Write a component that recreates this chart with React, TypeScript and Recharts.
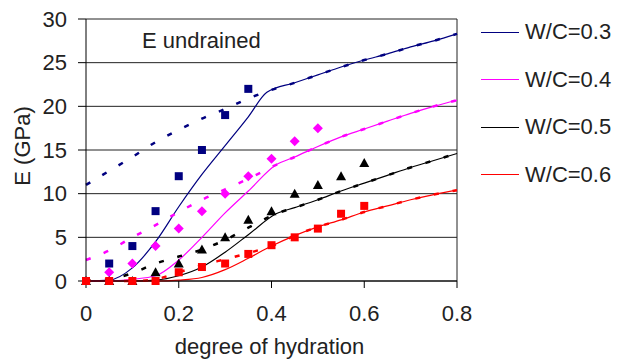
import React from 'react';
import { CartesianGrid, ComposedChart, Line, ReferenceLine, Scatter, XAxis, YAxis } from 'recharts';

// model curves (solid) - W/C 0.3 .. 0.6
const navyX = [0, 0.05, 0.1, 0.15, 0.2, 0.25, 0.3, 0.35, 0.39, 0.45, 0.5, 0.55, 0.6, 0.65, 0.7, 0.75, 0.8];
const navyY = [0, 0.1, 1.5, 4.5, 8.5, 12.2, 15.5, 18.8, 21.6, 22.7, 23.6, 24.5, 25.3, 26.0, 26.8, 27.5, 28.3];
const pinkX = [0, 0.05, 0.1, 0.15, 0.2, 0.25, 0.3, 0.35, 0.41, 0.45, 0.5, 0.55, 0.6, 0.65, 0.7, 0.75, 0.8];
const pinkY = [0, 0, 0.2, 0.6, 2.4, 5.0, 7.8, 10.3, 13.3, 14.2, 15.4, 16.5, 17.4, 18.3, 19.2, 20.0, 20.7];
const blackX = [0, 0.05, 0.1, 0.15, 0.2, 0.25, 0.3, 0.35, 0.41, 0.45, 0.5, 0.55, 0.6, 0.65, 0.7, 0.75, 0.8];
const blackY = [0, 0, 0, 0.1, 0.6, 1.6, 3.3, 5.3, 7.7, 8.4, 9.3, 10.3, 11.2, 12.1, 13.0, 13.8, 14.6];
const redX = [0, 0.05, 0.1, 0.15, 0.2, 0.25, 0.3, 0.35, 0.4, 0.45, 0.5, 0.55, 0.6, 0.65, 0.7, 0.75, 0.8];
const redY = [0, 0, 0, 0, 0.1, 0.4, 1.3, 2.6, 4.0, 5.2, 6.2, 7.0, 7.9, 8.6, 9.3, 9.9, 10.4];

// second model (dashed), joins the solid curve later on
const navyDashY = [11.0, 12.6, 14.2, 15.9, 17.3, 18.6, 19.7, 20.9, 21.7, 22.7, 23.6, 24.5, 25.3, 26.0, 26.8, 27.5, 28.3];
const pinkDashY = [2.4, 3.5, 5.0, 6.4, 7.9, 9.3, 10.5, 11.7, 13.3, 14.2, 15.4, 16.5, 17.4, 18.3, 19.2, 20.0, 20.7];
const blackDashY = [0, 0.2, 0.9, 2.0, 2.8, 3.6, 4.7, 6.1, 7.7, 8.4, 9.3, 10.3, 11.2, 12.1, 13.0, 13.8, 14.6];
const redDashY = [0, 0, 0, 0.2, 1.0, 1.8, 2.5, 3.2, 4.0, 5.2, 6.2, 7.0, 7.9, 8.6, 9.3, 9.9, 10.4];

// measurements
const navyPtsX = [0.05, 0.1, 0.15, 0.2, 0.25, 0.3, 0.35];
const navyPtsY = [2, 4, 8, 12, 15, 19, 22];
const pinkPtsX = [0.05, 0.1, 0.15, 0.2, 0.25, 0.3, 0.35, 0.4, 0.45, 0.5];
const pinkPtsY = [1, 2, 4, 6, 8, 10, 12, 14, 16, 17.5];
const blackPtsX = [0, 0.05, 0.1, 0.15, 0.2, 0.25, 0.3, 0.35, 0.4, 0.45, 0.5, 0.55, 0.6];
const blackPtsY = [0, 0, 0, 1, 2, 3.6, 5, 7, 8, 10, 11, 12, 13.5];
const redPtsX = [0, 0.05, 0.1, 0.15, 0.2, 0.25, 0.3, 0.35, 0.4, 0.45, 0.5, 0.55, 0.6];
const redPtsY = [0, 0, 0, 0, 1, 1.6, 2, 3.1, 4.1, 5, 6, 7.7, 8.6];

const xTicks = [0, 0.2, 0.4, 0.6, 0.8];
const yTicks = [0, 5, 10, 15, 20, 25, 30];
const legendLabels = ['W/C=0.3', 'W/C=0.4', 'W/C=0.5', 'W/C=0.6'];

const NAVY = '#000080';
const PINK = '#ff00ff';
const BLACK = '#000000';
const RED = '#ff0000';
const colors = [NAVY, PINK, BLACK, RED];

const zip = (xs: number[], ys: number[]) => xs.map((x, i) => ({ x, y: ys[i] }));

const FONT = 'Arial, "Liberation Sans", sans-serif';

const Square = (color: string) => (p: any) => <rect x={p.cx - 4} y={p.cy - 4} width={8} height={8} fill={color} />;
const Diamond = (p: any) => (
  <polygon points={`${p.cx},${p.cy - 5} ${p.cx + 5},${p.cy} ${p.cx},${p.cy + 5} ${p.cx - 5},${p.cy}`} fill={PINK} />
);
const Triangle = (p: any) => (
  <polygon points={`${p.cx},${p.cy - 5} ${p.cx + 5},${p.cy + 4} ${p.cx - 5},${p.cy + 4}`} fill={BLACK} />
);

export default function App() {
  const solid = [zip(navyX, navyY), zip(pinkX, pinkY), zip(blackX, blackY), zip(redX, redY)];
  const dashed = [zip(navyX, navyDashY), zip(pinkX, pinkDashY), zip(blackX, blackDashY), zip(redX, redDashY)];

  return (
    <div style={{ position: 'absolute', left: 0, top: 0, width: 624, height: 360, background: '#fff', fontFamily: FONT }}>
      <ComposedChart width={624} height={360} margin={{ top: 19, right: 167, bottom: 0, left: 0 }}>
        <CartesianGrid vertical={false} stroke="#222" />
        <XAxis
          dataKey="x"
          type="number"
          domain={[0, 0.8]}
          ticks={xTicks}
          height={79}
          tickSize={7}
          tickMargin={17}
          stroke="#000"
          tick={{ fill: '#222', fontSize: 22, fontFamily: FONT }}
          label={({ viewBox }: any) => (
            <text x={viewBox.x + viewBox.width / 2 - 2} y={354} textAnchor="middle" fill="#222" fontSize={22} fontFamily={FONT}>
              degree of hydration
            </text>
          )}
        />
        <YAxis
          dataKey="y"
          type="number"
          domain={[0, 30]}
          ticks={yTicks}
          width={86}
          tickSize={8}
          tickMargin={11}
          stroke="#000"
          tick={{ fill: '#222', fontSize: 22, fontFamily: FONT }}
          label={({ viewBox }: any) => {
            const cx = 22;
            const cy = viewBox.y + viewBox.height / 2 - 4;
            return (
              <text x={cx} y={cy} transform={`rotate(-90 ${cx} ${cy})`} textAnchor="middle" dominantBaseline="central" fill="#222" fontSize={22} fontFamily={FONT}>
                E (GPa)
              </text>
            );
          }}
        />
        <ReferenceLine x={0.8} stroke="#222" />
        {solid.map((d, i) => (
          <Line key={'s' + i} data={d} dataKey="y" type="monotone" stroke={colors[i]} strokeWidth={1.2} dot={false} isAnimationActive={false} />
        ))}
        {dashed.map((d, i) => (
          <Line key={'d' + i} data={d} dataKey="y" type="monotone" stroke={colors[i]} strokeWidth={2.5} strokeDasharray="5 14" dot={false} isAnimationActive={false} />
        ))}
        <Scatter data={zip(navyPtsX, navyPtsY)} shape={Square(NAVY)} isAnimationActive={false} />
        <Scatter data={zip(pinkPtsX, pinkPtsY)} shape={Diamond} isAnimationActive={false} />
        <Scatter data={zip(blackPtsX, blackPtsY)} shape={Triangle} isAnimationActive={false} />
        <Scatter data={zip(redPtsX, redPtsY)} shape={Square(RED)} isAnimationActive={false} />
        <text x={142} y={48} fill="#222" fontSize={22} fontFamily={FONT}>
          E undrained
        </text>
      </ComposedChart>
      {legendLabels.map((label, i) => (
        <div key={label} style={{ position: 'absolute', left: 481, top: 32 + i * 47.5 - 14, height: 28, display: 'flex', alignItems: 'center' }}>
          <span style={{ display: 'inline-block', width: 38, height: 0, borderTop: `1.5px solid ${colors[i]}`, marginRight: 6 }} />
          <span style={{ fontSize: 22, color: '#222', lineHeight: '28px' }}>{label}</span>
        </div>
      ))}
    </div>
  );
}
